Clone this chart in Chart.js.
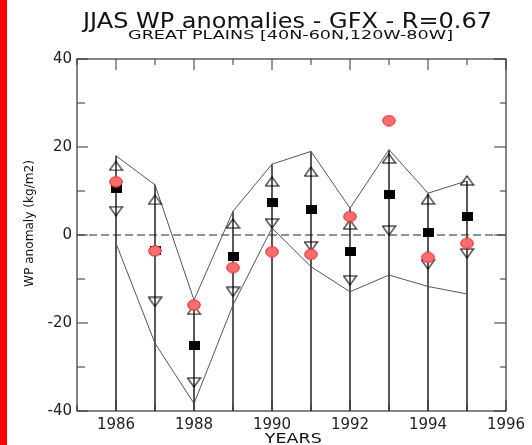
<!DOCTYPE html>
<html>
<head>
<meta charset="utf-8">
<script src="https://cdn.jsdelivr.net/npm/chart.js@4.4.1/dist/chart.umd.min.js"></script>
<style>
  html, body { margin: 0; padding: 0; background: #fff; }
  #wrap { position: relative; width: 532px; height: 445px; overflow: hidden; }
  #redbar { position: absolute; left: 0; top: 0; width: 7px; height: 445px; background: #ff0000; }
  #wpChart { position: absolute; left: 0; top: 0; }
</style>
</head>
<body>
<div id="wrap">
  <canvas id="wpChart" width="532" height="445"></canvas>
  <div id="redbar"></div>
</div>
<script>
// data
const years = [1986, 1987, 1988, 1989, 1990, 1991, 1992, 1993, 1994, 1995];
const upperEnv = [18.0, 11.4, -14.8, 5.4, 16.1, 19.0, 6.1, 19.4, 9.5, 12.3];
const lowerEnv = [-1.9, -24.6, -38.3, -15.9, 1.6, -7.2, -12.9, -9.1, -11.7, -13.4];
const upTri = [15.7, 8.0, -17.0, 2.6, 12.2, 14.4, 2.4, 17.4, 8.1, 12.4];
const downTri = [5.4, -15.2, -33.5, -12.9, 2.6, -2.6, -10.3, 1.0, -6.7, -4.2];
const gfxVals = [10.6, -3.6, -25.2, -4.9, 7.4, 5.9, -3.8, 9.1, 0.6, 4.2];
const obsVals = [12.1, -3.6, -15.9, -7.4, -3.8, -4.4, 4.2, 26.0, -5.1, -1.9];

const xRange = [1985, 1996];
const yRange = [-40, 40];
const xLabelYears = [1986, 1988, 1990, 1992, 1994, 1996];
const yLabelValues = [-40, -20, 0, 20, 40];

const titleText = 'JJAS WP anomalies - GFX - R=0.67';
const subtitleText = 'GREAT PLAINS [40N-60N,120W-80W]';
const xTitle = 'YEARS';
const yTitle = 'WP anomaly (kg/m2)';

const FONT = '"DejaVu Sans", "Liberation Sans", sans-serif';

// marker images
function makeMarker(w, h, draw) {
    const c = document.createElement('canvas');
    c.width = w; c.height = h;
    draw(c.getContext('2d'));
    return c;
}
const upMarker = makeMarker(15, 11, g => {
    g.strokeStyle = '#000'; g.lineWidth = 1.1;
    g.beginPath(); g.moveTo(7.5, 1); g.lineTo(14, 10); g.lineTo(1, 10); g.closePath(); g.stroke();
});
const downMarker = makeMarker(15, 11, g => {
    g.strokeStyle = '#000'; g.lineWidth = 1.1;
    g.beginPath(); g.moveTo(1, 1); g.lineTo(14, 1); g.lineTo(7.5, 10); g.closePath(); g.stroke();
});
const squareMarker = makeMarker(11, 9, g => {
    g.fillStyle = '#000'; g.fillRect(0, 0, 11, 9);
});
const circleMarker = makeMarker(14, 12, g => {
    g.fillStyle = 'rgb(246,110,110)';
    g.strokeStyle = 'rgb(238,40,40)';
    g.lineWidth = 1;
    g.beginPath(); g.ellipse(7, 6, 6.3, 5.2, 0, 0, Math.PI * 2); g.fill(); g.stroke();
});

const pts = vals => years.map((x, i) => ({ x, y: vals[i] }));
const stems = years.flatMap((x, i) => [{ x, y: yRange[0] }, { x, y: upperEnv[i] }, { x, y: null }]);

function stretchText(ctx, text, x, y, size, width, rotated) {
    ctx.font = size + 'px ' + FONT;
    const w = ctx.measureText(text).width;
    ctx.save();
    ctx.translate(x, y);
    if (rotated) ctx.rotate(-Math.PI / 2);
    ctx.scale(width / w, 1);
    ctx.textAlign = 'center';
    ctx.textBaseline = 'alphabetic';
    ctx.fillText(text, 0, 0);
    ctx.restore();
}

const framePlugin = {
    id: 'frame',
    afterDraw(chart) {
        const { ctx, chartArea: a, scales: { x, y } } = chart;
        ctx.save();
        ctx.strokeStyle = '#333';
        ctx.lineWidth = 1.2;
        ctx.strokeRect(a.left, a.top, a.right - a.left, a.bottom - a.top);

        ctx.lineWidth = 1;
        ctx.beginPath();
        x.ticks.forEach(t => {
            const px = x.getPixelForValue(t.value);
            const len = xLabelYears.includes(t.value) ? 11 : 6;
            ctx.moveTo(px, a.bottom); ctx.lineTo(px, a.bottom - len);
            ctx.moveTo(px, a.top); ctx.lineTo(px, a.top + len);
        });
        y.ticks.forEach(t => {
            const py = y.getPixelForValue(t.value);
            const major = yLabelValues.includes(t.value);
            ctx.moveTo(a.left, py); ctx.lineTo(a.left + (major ? 11 : 8), py);
            ctx.moveTo(a.right, py); ctx.lineTo(a.right - (major ? 12 : 6), py);
        });
        ctx.stroke();

        ctx.fillStyle = '#111';
        stretchText(ctx, titleText, 287.5, 28.3, 20.5, 409);
        stretchText(ctx, subtitleText, 290.5, 39.2, 12.8, 325);
        stretchText(ctx, xTitle, 293.3, 442.5, 14.5, 57);
        stretchText(ctx, yTitle, 33.3, 223.5, 12, 127, true);
        ctx.restore();
    }
};

const ctx = document.getElementById('wpChart').getContext('2d');
new Chart(ctx, {
    type: 'line',
    data: {
        datasets: [
            { type: 'scatter', data: pts(obsVals), pointStyle: circleMarker },
            { type: 'scatter', data: pts(gfxVals), pointStyle: squareMarker },
            { type: 'scatter', data: pts(upTri), pointStyle: upMarker },
            { type: 'scatter', data: pts(downTri), pointStyle: downMarker },
            { data: pts(upperEnv), borderColor: '#555', borderWidth: 1, pointRadius: 0, tension: 0 },
            { data: pts(lowerEnv), borderColor: '#555', borderWidth: 1, pointRadius: 0, tension: 0 },
            { data: stems, borderColor: '#222', borderWidth: 1.5, pointRadius: 0, spanGaps: false },
            { data: [{ x: xRange[0], y: 0 }, { x: xRange[1], y: 0 }], borderColor: '#222', borderWidth: 1,
              borderDash: [8, 4], pointRadius: 0 }
        ]
    },
    options: {
        responsive: false,
        animation: false,
        devicePixelRatio: 1,
        events: [],
        layout: { padding: { left: 0, top: 59, right: 26, bottom: 0 } },
        plugins: { legend: { display: false }, tooltip: { enabled: false } },
        scales: {
            x: {
                type: 'linear',
                min: xRange[0], max: xRange[1],
                offset: false,
                grid: { display: false, drawTicks: false, offset: false },
                border: { display: false },
                ticks: {
                    stepSize: 1,
                    autoSkip: false,
                    maxRotation: 0,
                    padding: 5,
                    color: '#222',
                    font: { family: FONT, size: 15 },
                    callback: v => xLabelYears.includes(v) ? String(v) : ''
                },
                afterFit: s => { s.height = 34; }
            },
            y: {
                min: yRange[0], max: yRange[1],
                grid: { display: false, drawTicks: false },
                border: { display: false },
                ticks: {
                    stepSize: 10,
                    padding: 5,
                    color: '#222',
                    font: { family: FONT, size: 15 },
                    callback: v => yLabelValues.includes(v) ? String(v) : ''
                },
                afterFit: s => { s.width = 77; }
            }
        }
    },
    plugins: [framePlugin]
});
</script>
</body>
</html>
